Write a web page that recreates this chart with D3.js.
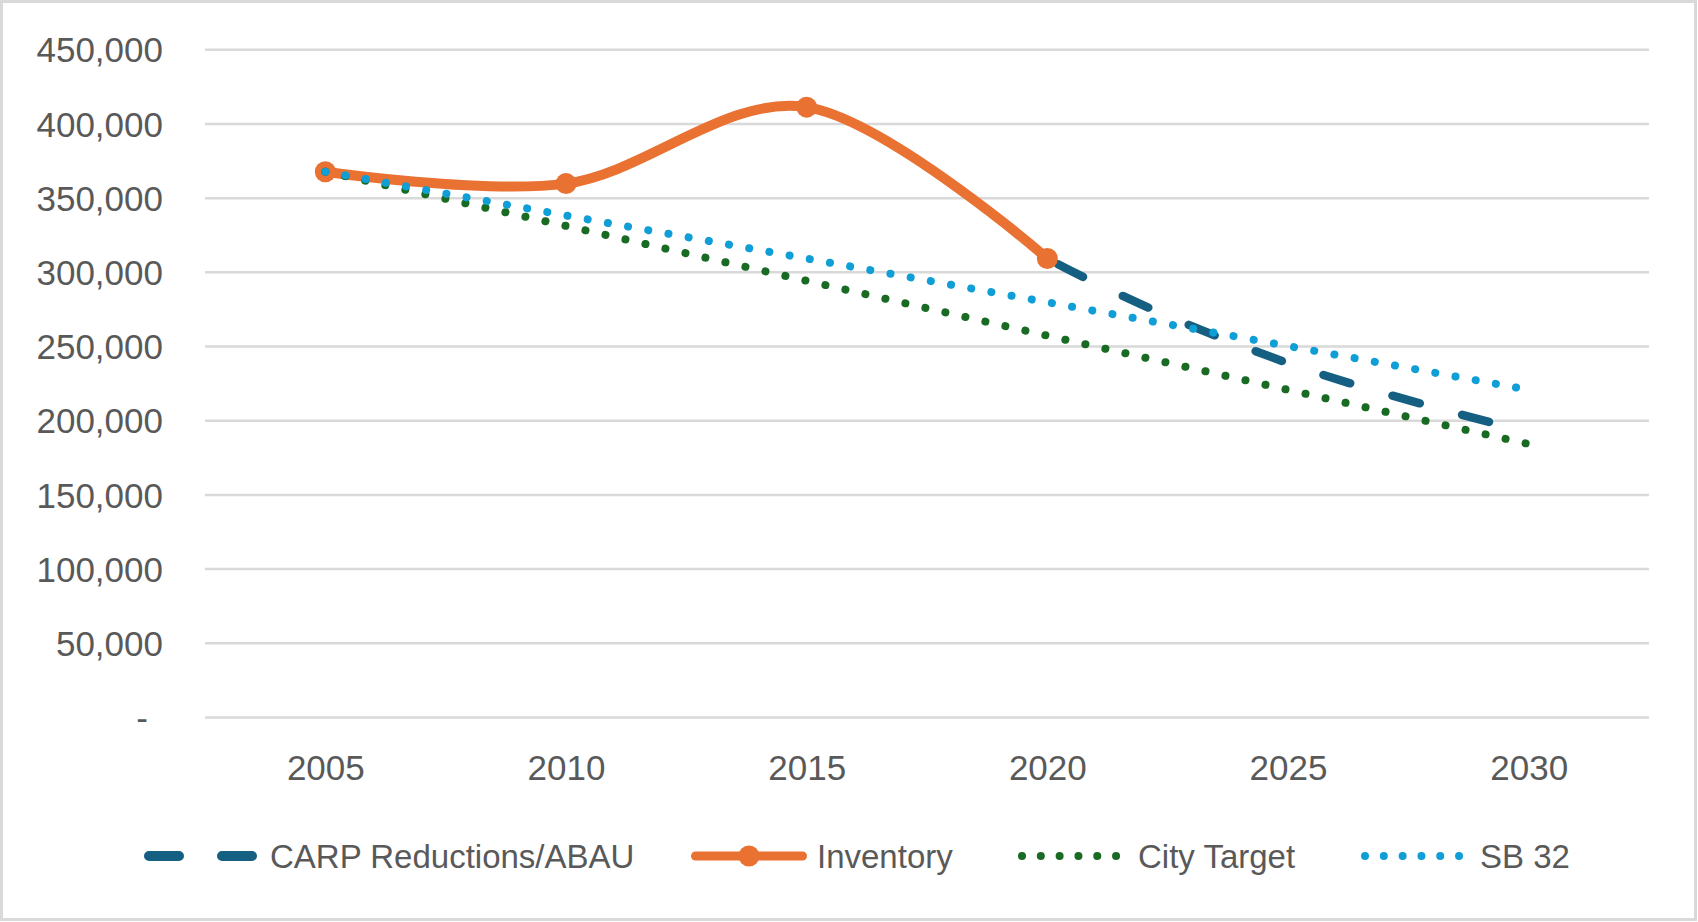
<!DOCTYPE html>
<html>
<head>
<meta charset="utf-8">
<script src="https://cdn.jsdelivr.net/npm/d3@7"></script>
<style>
  body { margin: 0; background: #fff; }
  text { font-family: "Liberation Sans", Arial, sans-serif; }
</style>
</head>
<body>
<div id="chart"></div>
<script>
// data
var years = [2005, 2010, 2015, 2020, 2025, 2030];
var carp = [367500, 359500, 411000, 309000, 238500, 192000];
var inventory = [367500, 359500, 411000, 309000, null, null];
var cityTarget = [367500, 331000, 294000, 257000, 220500, 184000];
var sb32 = [367500, 338000, 309000, 279500, 250000, 220500];
var yTicks = [0, 50000, 100000, 150000, 200000, 250000, 300000, 350000, 400000, 450000];

var seriesNames = ["CARP Reductions/ABAU", "Inventory", "City Target", "SB 32"];
var seriesColors = ["#156082", "#E97132", "#196B24", "#0F9ED5"];

// set the dimensions and margins of the graph
var W = 1698, H = 922;
var margin = {top: 49.3, right: 49, bottom: 205, left: 205},
    width = W - margin.left - margin.right,
    height = H - margin.top - margin.bottom;

var svgRoot = d3.select("#chart")
  .append("svg")
  .attr("width", W)
  .attr("height", H);

// chart area border
svgRoot.append("rect")
  .attr("x", 1.5).attr("y", 1.5)
  .attr("width", W - 4).attr("height", H - 4)
  .attr("fill", "#fff")
  .attr("stroke", "#d9d9d9")
  .attr("stroke-width", 3);

var svg = svgRoot.append("g")
  .attr("transform", "translate(" + margin.left + "," + margin.top + ")");

// scales
var x = d3.scalePoint().domain(years).range([0, width]).padding(0.5);
var y = d3.scaleLinear().domain([0, 450000]).range([height, 0]);

// Y axis + gridlines
var yAxis = svg.append("g")
  .call(d3.axisLeft(y)
    .tickValues(yTicks)
    .tickSize(-width)
    .tickPadding(42)
    .tickFormat(function(d) { return d === 0 ? "-" : d3.format(",")(d); }));
yAxis.select(".domain").remove();
yAxis.selectAll(".tick line")
  .attr("stroke", "#d9d9d9")
  .attr("stroke-width", 2.5);
yAxis.selectAll(".tick text")
  .attr("fill", "#595959")
  .style("font-size", "35px")
  .attr("dy", "0.36em")
  .attr("x", function(d) { return d === 0 ? -57 : -42; });

// X axis
var xAxis = svg.append("g")
  .attr("transform", "translate(0," + height + ")")
  .call(d3.axisBottom(x).tickSize(0).tickPadding(38.5));
xAxis.select(".domain").remove();
xAxis.selectAll(".tick text")
  .attr("fill", "#595959")
  .style("font-size", "35px");

// lines
var smooth = d3.line()
  .defined(function(d) { return d[1] != null; })
  .x(function(d) { return x(d[0]); })
  .y(function(d) { return y(d[1]); })
  .curve(d3.curveCardinal.tension(0));
var straight = d3.line()
  .x(function(d) { return x(d[0]); })
  .y(function(d) { return y(d[1]); });

function pairs(vals) { return years.map(function(yr, i) { return [yr, vals[i]]; }); }

// CARP only shows past the last inventory year (it sits under the inventory line before that)
svgRoot.append("defs").append("clipPath")
  .attr("id", "carp-clip")
  .append("rect")
    .attr("x", x(2020)).attr("y", -margin.top)
    .attr("width", width - x(2020) + margin.right).attr("height", H);

var carpDash = [28, 44];
var carpPath = svg.append("path")
  .attr("d", smooth(pairs(carp)))
  .attr("clip-path", "url(#carp-clip)")
  .attr("fill", "none")
  .attr("stroke", seriesColors[0])
  .attr("stroke-width", 8.5)
  .attr("stroke-linecap", "round")
  .attr("stroke-dasharray", carpDash.join(","));

// start a dash just after the 2020 point
var node = carpPath.node(), lo = 0, hi = node.getTotalLength(), target = x(2020);
for (var k = 0; k < 40; k++) {
  var mid = (lo + hi) / 2;
  if (node.getPointAtLength(mid).x < target) lo = mid; else hi = mid;
}
var period = carpDash[0] + carpDash[1];
var startAt = lo + 12;
carpPath.attr("stroke-dashoffset", (period - (startAt % period)) % period);

// Inventory
svg.append("path")
  .attr("d", smooth(pairs(inventory)))
  .attr("fill", "none")
  .attr("stroke", seriesColors[1])
  .attr("stroke-width", 10)
  .attr("stroke-linecap", "round");
svg.append("g")
  .selectAll("circle")
  .data(pairs(inventory).filter(function(d) { return d[1] != null; }))
  .enter()
  .append("circle")
    .attr("cx", function(d) { return x(d[0]); })
    .attr("cy", function(d) { return y(d[1]); })
    .attr("r", 10.5)
    .attr("fill", seriesColors[1]);

// City Target and SB 32 (dotted)
[cityTarget, sb32].forEach(function(vals, i) {
  svg.append("path")
    .attr("d", straight(pairs(vals)))
    .attr("fill", "none")
    .attr("stroke", seriesColors[i + 2])
    .attr("stroke-width", 8)
    .attr("stroke-linecap", "round")
    .attr("stroke-dasharray", "0.01,20.5");
});

// ---------------------------//
//       LEGEND               //
// ---------------------------//
var legendY = 856;
var legendX = [144, 691, 1018, 1361];
var symW = [113, 116, 102, 102];
var textX = [270, 817, 1138, 1480];
var legend = svgRoot.append("g");

seriesNames.forEach(function(name, i) {
  var g = legend.append("g");
  var lx = legendX[i];
  if (i === 0) {
    g.append("line")
      .attr("x1", lx + 5).attr("x2", lx + symW[i] - 5)
      .attr("y1", legendY).attr("y2", legendY)
      .attr("stroke", seriesColors[i])
      .attr("stroke-width", 10)
      .attr("stroke-linecap", "round")
      .attr("stroke-dasharray", "30,43");
  } else if (i === 1) {
    g.append("line")
      .attr("x1", lx + 4.5).attr("x2", lx + symW[i] - 4.5)
      .attr("y1", legendY).attr("y2", legendY)
      .attr("stroke", seriesColors[i])
      .attr("stroke-width", 9)
      .attr("stroke-linecap", "round");
    g.append("circle")
      .attr("cx", lx + symW[i] / 2).attr("cy", legendY)
      .attr("r", 10.5)
      .attr("fill", seriesColors[i]);
  } else {
    g.append("line")
      .attr("x1", lx + 4).attr("x2", lx + symW[i] - 3)
      .attr("y1", legendY).attr("y2", legendY)
      .attr("stroke", seriesColors[i])
      .attr("stroke-width", 8)
      .attr("stroke-linecap", "round")
      .attr("stroke-dasharray", "0.01,18.8");
  }
  g.append("text")
    .attr("x", textX[i])
    .attr("y", legendY + 11.5)
    .attr("fill", "#595959")
    .style("font-size", "33px")
    .text(name);
});
</script>
</body>
</html>
